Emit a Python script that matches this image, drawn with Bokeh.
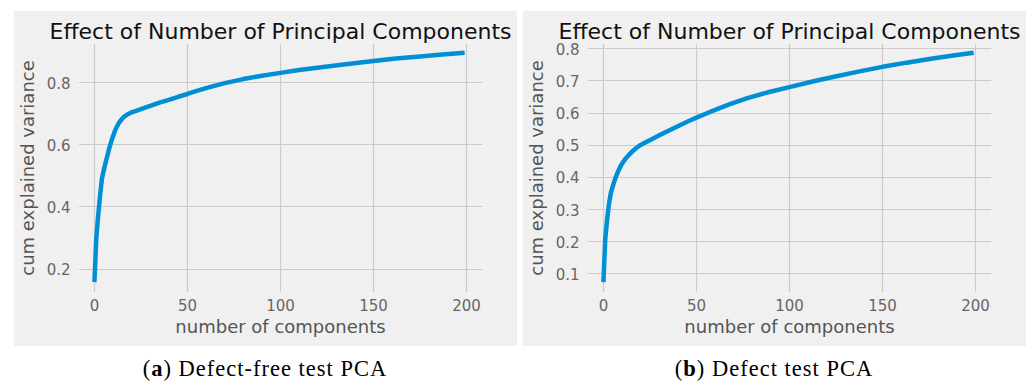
from bokeh.plotting import figure
from bokeh.models import Div, Range1d, FixedTicker
from bokeh.layouts import row, column
from bokeh.embed import file_html
from bokeh.resources import INLINE

title_text = "Effect of Number of Principal Components"
x_label = "number of components"
y_label = "cum explained variance"
x_ticks = [0, 50, 100, 150, 200]

# (a) Defect-free test PCA
x_a = [0, 1, 2, 3, 4, 5, 6, 7, 8, 9, 10, 11, 12, 13, 14, 15, 16, 18, 20, 22, 25, 30, 35, 40, 45, 50,
       55, 60, 65, 70, 80, 90, 100, 110, 122, 135, 150, 162, 175, 187, 199]
y_a = [0.158, 0.300, 0.370, 0.435, 0.490, 0.518, 0.543, 0.566, 0.590, 0.610, 0.628, 0.645, 0.658,
       0.669, 0.678, 0.685, 0.691, 0.699, 0.705, 0.709, 0.715, 0.726, 0.736, 0.745, 0.755, 0.764,
       0.774, 0.783, 0.791, 0.799, 0.812, 0.823, 0.832, 0.841, 0.850, 0.860, 0.870, 0.878, 0.885,
       0.891, 0.897]
y_ticks_a = [0.2, 0.4, 0.6, 0.8]
caption_a = "(<b>a</b>) Defect-free test PCA"

# (b) Defect test PCA
x_b = [0, 1, 2, 3, 4, 5, 6, 7, 8, 9, 10, 12, 14, 16, 18, 20, 23, 26, 30, 35, 40, 45, 50, 55, 60,
       68, 77, 88, 100, 113, 124, 137, 150, 163, 176, 188, 199]
y_b = [0.074, 0.210, 0.270, 0.318, 0.352, 0.372, 0.390, 0.406, 0.420, 0.432, 0.443, 0.459, 0.472,
       0.483, 0.493, 0.501, 0.510, 0.519, 0.531, 0.545, 0.559, 0.573, 0.586, 0.598, 0.610, 0.628,
       0.646, 0.664, 0.681, 0.699, 0.713, 0.729, 0.744, 0.757, 0.769, 0.779, 0.788]
y_ticks_b = [0.1, 0.2, 0.3, 0.4, 0.5, 0.6, 0.7, 0.8]
caption_b = "(<b>b</b>) Defect test PCA"

BG = "#f0f0f0"
FONT = "DejaVu Sans"


def panel(xs, ys, yr, yticks, left_margin):
    p = figure(width=504, height=336, x_range=Range1d(-8.56, 208.6), y_range=Range1d(*yr),
               output_backend="svg", toolbar_location=None,
               min_border_left=63, min_border_right=35, min_border_top=33, min_border_bottom=54)
    p.title.text = title_text
    p.title.align = "center"
    p.title.text_font = FONT
    p.title.text_font_size = "22px"
    p.title.text_font_style = "normal"
    p.title.text_color = "#111111"
    p.title.standoff = 0
    p.background_fill_color = BG
    p.border_fill_color = BG
    p.outline_line_color = None
    p.xaxis.ticker = FixedTicker(ticks=x_ticks)
    p.yaxis.ticker = FixedTicker(ticks=yticks)
    for ax in (p.xaxis, p.yaxis):
        ax.axis_line_color = None
        ax.major_tick_line_color = None
        ax.minor_tick_line_color = None
        ax.major_tick_in = 0
        ax.major_tick_out = 0
        ax.major_label_text_font = FONT
        ax.major_label_text_font_size = "15px"
        ax.major_label_text_color = "#666666"
        ax.axis_label_text_font = FONT
        ax.axis_label_text_font_size = "18px"
        ax.axis_label_text_font_style = "normal"
        ax.axis_label_text_color = "#555555"
    p.xaxis.axis_label = x_label
    p.yaxis.axis_label = y_label
    p.xaxis.major_label_standoff = 6
    p.yaxis.major_label_standoff = 8
    p.xaxis.axis_label_standoff = 2
    p.yaxis.axis_label_standoff = 6
    p.grid.grid_line_color = "#cbcbcb"
    p.grid.grid_line_width = 1.2
    p.line(xs, ys, line_color="#008fd5", line_width=4.5)
    p.margin = (10, 0, 0, left_margin)
    return p


def caption(html, left_margin):
    return Div(text=html, width=504, height=24, margin=(12, 0, 0, left_margin),
               styles={"font-family": "Liberation Serif", "font-size": "22.5px", "line-height": "22px",
                       "letter-spacing": "1px", "text-align": "center", "color": "#000000",
                       "width": "504px"})


pa = panel(x_a, y_a, (0.1246, 0.9266), y_ticks_a, 13)
pb = panel(x_b, y_b, (0.0418, 0.8166), y_ticks_b, 5)

layout = row(column(pa, caption(caption_a, 13)), column(pb, caption(caption_b, 5)))

open("out.html", "w").write(file_html(layout, INLINE))
